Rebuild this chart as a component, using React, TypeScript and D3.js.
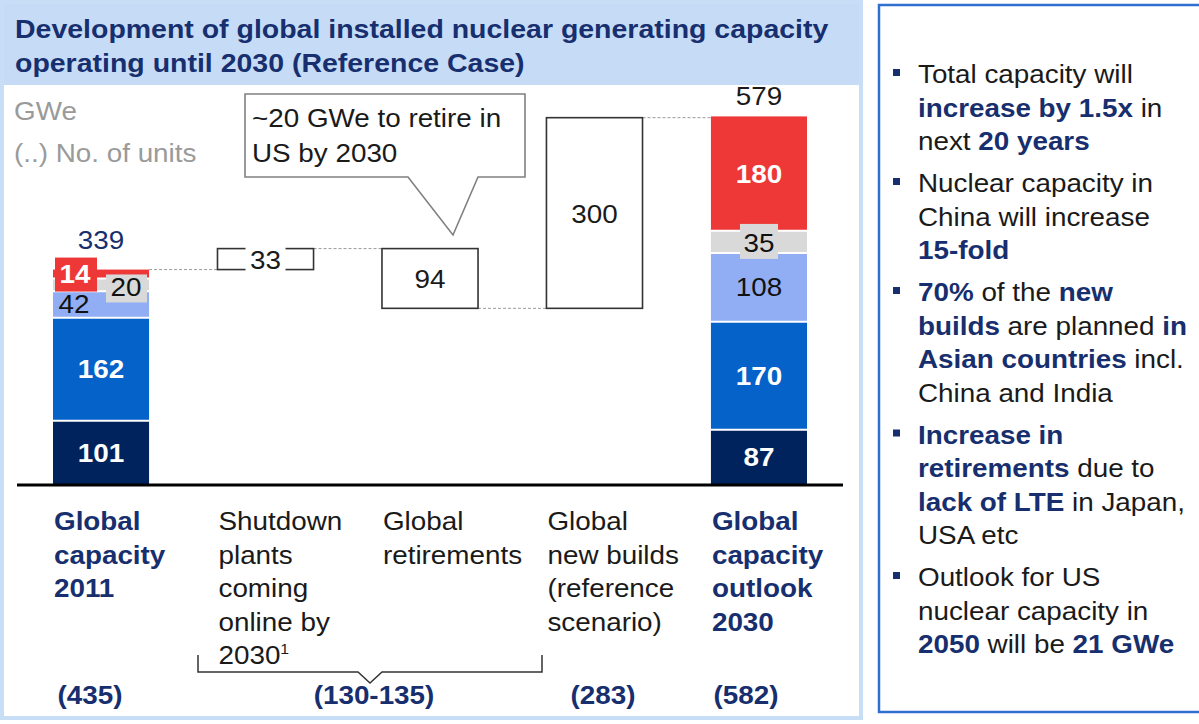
import React from "react";
import * as d3 from "d3";

// ---------- data ----------
const categories = [
  ["Global", "capacity", "2011"],
  ["Shutdown", "plants", "coming", "online by", "2030"],
  ["Global", "retirements"],
  ["Global", "new builds", "(reference", "scenario)"],
  ["Global", "capacity", "outlook", "2030"],
];
const segmentNames = ["Seg A", "Seg B", "Seg C", "Seg D", "Seg E"];
const values2011 = [101, 162, 42, 20, 14];
const values2030 = [87, 170, 108, 35, 180];
const total2011 = 339;
const total2030 = 579;
const stepValues = [33, -94, 300];
const unitCounts = ["(435)", "(130-135)", "(283)", "(582)"];
const calloutLines = ["~20 GWe to retire in", "US by 2030"];

type Run = [string, boolean];
const bulletPoints: Run[][][] = [
  [[["Total capacity will", false]], [["increase by 1.5x", true], [" in", false]], [["next ", false], ["20 years", true]]],
  [[["Nuclear capacity in", false]], [["China will increase", false]], [["15-fold", true]]],
  [
    [["70%", true], [" of the ", false], ["new", true]],
    [["builds", true], [" are planned ", false], ["in", true]],
    [["Asian countries", true], [" incl.", false]],
    [["China and India", false]],
  ],
  [
    [["Increase in", true]],
    [["retirements", true], [" due to", false]],
    [["lack of LTE", true], [" in Japan,", false]],
    [["USA etc", false]],
  ],
  [[["Outlook for US", false]], [["nuclear capacity in", false]], [["2050", true], [" will be ", false], ["21 GWe", true]]],
];

// ---------- style ----------
const FONT = "'Liberation Sans', Arial, Helvetica, sans-serif";
const NAVY = "#172f6e";
const TXT = "#1a1a1a";
const segColors = ["#00235d", "#0562c9", "#91aef4", "#d9d9d9", "#ee3737"];
const segText = ["#fff", "#fff", "#111", "#111", "#fff"];
const segBold = [true, true, false, false, true];
const FS = 26.5;
const SX = 1.05;

function T(props: {
  x: number; y: number; anchor?: string; size?: number; bold?: boolean; fill?: string; sx?: number; children: any;
}) {
  const { x, y, anchor = "start", size = FS, bold = false, fill = TXT, sx = SX, children } = props;
  return (
    <text
      transform={`translate(${x},${y}) scale(${sx},1)`}
      textAnchor={anchor}
      fontSize={size}
      fontWeight={bold ? "bold" : "normal"}
      fill={fill}
      fontFamily={FONT}
    >
      {children}
    </text>
  );
}

export default function App() {
  const W = 1199, H = 724;
  const baseY = 485;
  const y = d3.scaleLinear().domain([0, 600]).range([baseY, baseY - 600 * 0.6355]);
  const x = d3
    .scaleBand<number>()
    .domain(d3.range(5))
    .range([53, 807])
    .paddingInner(0.416)
    .paddingOuter(0);
  const bw = x.bandwidth();

  const stack = (vals: number[]) => {
    let acc = 0;
    return vals.map((v, i) => {
      const s = { i, v, y0: acc, y1: acc + v };
      acc += v;
      return s;
    });
  };
  const st2011 = stack(values2011);
  const st2030 = stack(values2030);

  // waterfall steps
  let level = total2011;
  const steps = stepValues.map((v, k) => {
    const from = level;
    const to = level + v;
    level = to;
    return { k, v, lo: Math.min(from, to), hi: Math.max(from, to), from, to };
  });

  const connectors: { x1: number; x2: number; yv: number }[] = [];
  connectors.push({ x1: x(0)! + bw, x2: x(1)!, yv: total2011 });
  steps.forEach((s, k) => {
    connectors.push({ x1: x(k + 1)! + bw, x2: x(k + 2)!, yv: s.to });
  });

  const segLabels = (st: typeof st2011, bi: number) => {
    const bx = x(bi)!;
    return st.map((s) => {
      const yc = (y(s.y0) + y(s.y1)) / 2;
      let cx = bx + bw / 2;
      let ty = yc + 9;
      let box: null | { x: number; y: number; w: number; h: number } = null;
      if (bi === 0 && s.i === 2) { cx = bx + 21; ty = y(s.y0) - 5; }
      if (bi === 0 && s.i === 3) { cx = bx + 73; ty = y(s.y0) + 5; box = { x: bx + 53, y: y(s.y1) - 4, w: 41, h: 28 }; }
      if (bi === 0 && s.i === 4) { cx = bx + 22; ty = y(s.y0) + 5; box = { x: bx + 2, y: y(s.y1) - 12, w: 42, h: 34 }; }
      if (bi === 4 && s.i === 3) { box = { x: cx - 19, y: yc - 18, w: 38, h: 35 }; ty = yc + 10; }
      return (
        <g key={`l${bi}-${s.i}`}>
          {box && <rect x={box.x} y={box.y} width={box.w} height={box.h} fill={segColors[s.i]} />}
          <T x={cx} y={ty} anchor="middle" bold={segBold[s.i]} fill={segText[s.i]}>{s.v}</T>
        </g>
      );
    });
  };

  const bars = (st: typeof st2011, bi: number) =>
    st.map((s) => (
      <rect
        key={`b${bi}-${s.i}`}
        x={x(bi)}
        y={y(s.y1)}
        width={bw}
        height={y(s.y0) - y(s.y1)}
        fill={segColors[s.i]}
      >
        <title>{segmentNames[s.i]}</title>
      </rect>
    ));

  const separators = (st: typeof st2011, bi: number) =>
    st.slice(1).map((s) => (
      <line key={`sep${bi}-${s.i}`} x1={x(bi)} x2={x(bi)! + bw} y1={y(s.y0)} y2={y(s.y0)} stroke="#fff" strokeWidth={2} />
    ));

  // right panel lines
  const rpLines: { runs: Run[]; yb: number; bullet: boolean }[] = [];
  let yb = 83;
  bulletPoints.forEach((bp) => {
    bp.forEach((ln, li) => {
      rpLines.push({ runs: ln, yb, bullet: li === 0 });
      yb += 33.5;
    });
    yb += 8.5;
  });

  // callout geometry
  const cL = 245, cR = 525, cT = 94, cB = 177;
  const tip = { x: 453, y: 235 };

  return (
    <svg width={W} height={H} style={{ position: "absolute", left: 0, top: 0, background: "#fff" }} fontFamily={FONT}>
      {/* left panel */}
      <rect x={2} y={2} width={859} height={716} fill="#fff" stroke="#c8ddf6" strokeWidth={4} />
      <rect x={4} y={4} width={855} height={81} fill="#c6dcf6" />
      <T x={15} y={38} bold fill={NAVY} sx={1.075}>Development of global installed nuclear generating capacity</T>
      <T x={15} y={72} bold fill={NAVY} sx={1.075}>operating until 2030 (Reference Case)</T>

      <T x={14} y={120} fill="#9a9a9a">GWe</T>
      <T x={14} y={162} fill="#9a9a9a">(..) No. of units</T>

      {/* connectors */}
      {connectors.map((c, i) => (
        <line key={`c${i}`} x1={c.x1} x2={c.x2} y1={y(c.yv)} y2={y(c.yv)} stroke="#9a9a9a" strokeWidth={1} strokeDasharray="3,2" />
      ))}

      {/* stacked bars */}
      {bars(st2011, 0)}
      {separators(st2011, 0)}
      {bars(st2030, 4)}
      {separators(st2030, 4)}
      {segLabels(st2011, 0)}
      {segLabels(st2030, 4)}

      <T x={x(0)! + bw / 2} y={y(total2011) - 21} anchor="middle" fill={NAVY}>{total2011}</T>
      <T x={x(4)! + bw / 2} y={y(total2030) - 12} anchor="middle">{total2030}</T>

      {/* floating steps */}
      {steps.map((s, k) => {
        const bx = x(k + 1)!;
        const yt = y(s.hi), ybm = y(s.lo);
        const small = ybm - yt < 30;
        return (
          <g key={`s${k}`}>
            <rect x={bx} y={yt} width={bw} height={ybm - yt} fill="#fff" stroke="#333" strokeWidth={1.6} />
            {small && <rect x={bx + bw / 2 - 20} y={yt - 3} width={40} height={ybm - yt + 6} fill="#fff" />}
            <T x={bx + bw / 2} y={(yt + ybm) / 2 + 10} anchor="middle">{Math.abs(s.v)}</T>
          </g>
        );
      })}

      {/* callout */}
      <path
        d={`M${cL},${cT}H${cR}V${cB}H${tip.x + 25}L${tip.x},${tip.y}L${tip.x - 45},${cB}H${cL}Z`}
        fill="#fff"
        stroke="#808080"
        strokeWidth={1.6}
      />
      {calloutLines.map((t, i) => (
        <T key={`co${i}`} x={252} y={127 + i * 35}>{t}</T>
      ))}

      {/* axis baseline */}
      <line x1={17} x2={843} y1={baseY} y2={baseY} stroke="#000" strokeWidth={3} />

      {/* category labels */}
      {categories.map((lines, ci) => (
        <g key={`cat${ci}`}>
          {lines.map((ln, li) => (
            <T key={li} x={x(ci)! + 1} y={530 + li * 33.5} bold={ci === 0 || ci === 4} fill={ci === 0 || ci === 4 ? NAVY : TXT}>
              {ln}
              {ci === 1 && li === lines.length - 1 ? (
                <tspan fontSize={15} dy={-10}>1</tspan>
              ) : null}
            </T>
          ))}
        </g>
      ))}

      {/* bracket */}
      <path d="M198,655V672H358L370,683L382,672H542V655" fill="none" stroke="#333" strokeWidth={1.5} />

      {/* unit counts */}
      <T x={90} y={704} anchor="middle" bold fill={NAVY}>{unitCounts[0]}</T>
      <T x={374} y={704} anchor="middle" bold fill={NAVY}>{unitCounts[1]}</T>
      <T x={603} y={704} anchor="middle" bold fill={NAVY}>{unitCounts[2]}</T>
      <T x={746} y={704} anchor="middle" bold fill={NAVY}>{unitCounts[3]}</T>

      {/* right panel */}
      <rect x={879} y={5} width={330} height={707} fill="#fff" stroke="#2f6fd0" strokeWidth={2.5} />
      {rpLines.map((l, i) => (
        <g key={`rp${i}`}>
          {l.bullet && <rect x={893} y={l.yb - 14} width={7} height={7} fill={NAVY} />}
          <T x={918} y={l.yb}>
            {l.runs.map((r, j) => (
              <tspan key={j} fontWeight={r[1] ? "bold" : "normal"} fill={r[1] ? NAVY : TXT}>{r[0]}</tspan>
            ))}
          </T>
        </g>
      ))}
    </svg>
  );
}
